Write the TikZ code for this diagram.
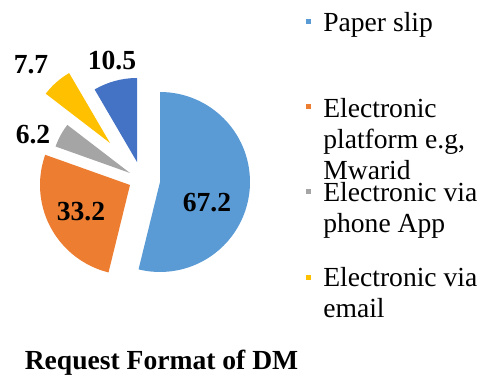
\documentclass[tikz,border=0pt]{standalone}
\usepackage{fontspec}
\setmainfont{Liberation Serif}
\definecolor{paperblue}{HTML}{5B9BD5}
\definecolor{platorange}{HTML}{ED7D31}
\definecolor{appgray}{HTML}{A5A5A5}
\definecolor{mailyellow}{HTML}{FFC000}
\definecolor{otherblue}{HTML}{4472C4}

\tikzstyle{slice}=[draw=none]
\tikzstyle{val}=[font=\fontsize{15.7}{18}\selectfont\bfseries, inner sep=0pt]
\tikzstyle{legtext}=[font=\fontsize{15.7}{17.9}\selectfont, align=left, anchor=base west, inner sep=0pt]
\tikzstyle{legbox}=[minimum size=0.1cm, inner sep=0pt]

\begin{document}
\begin{tikzpicture}[x=0.02cm, y=0.02cm]
      \useasboundingbox (0, 0) rectangle (491, 385);

      % slices
      \fill[slice, paperblue] (160, 203) -- ++(90:90) arc (90:-103.8:90) -- cycle;
      \fill[slice, platorange] (130, 200) -- ++(-103.8:90) arc (-103.8:-199.6:90) -- cycle;
      \fill[slice, appgray] (130, 212) -- ++(160.4:79) arc (160.4:142.5:79) -- cycle;
      \fill[slice, mailyellow] (110, 242) -- ++(142.5:81) arc (142.5:120.3:81) -- cycle;
      \fill[slice, otherblue] (137, 223) -- ++(120.3:84) arc (120.3:90:84) -- cycle;

      % values
      \node[val] (v1) at (207, 182) {67.2};
      \node[val] (v2) at (81, 173) {33.2};
      \node[val] (v3) at (33, 250) {6.2};
      \node[val] (v4) at (31, 320) {7.7};
      \node[val] (v5) at (112, 324) {10.5};

      % legend (base = last line)
      \node[legbox, fill=paperblue] (b1) at (308, 363.5) {};
      \node[legbox, fill=platorange] (b2) at (308, 278) {};
      \node[legbox, fill=appgray] (b3) at (308, 193) {};
      \node[legbox, fill=mailyellow] (b4) at (308, 107.3) {};
      \node[legtext] (l1) at (323, 353.3) {Paper slip};
      \node[legtext] (l2) at (323, 205) {Electronic\\platform e.g,\\Mwarid};
      \node[legtext] (l3) at (323, 152) {Electronic via\\phone App};
      \node[legtext] (l4) at (323, 67) {Electronic via\\email};

      \node[val, anchor=base] (title) at (161.5, 15) {Request Format of DM};
    \end{tikzpicture}
\end{document}
